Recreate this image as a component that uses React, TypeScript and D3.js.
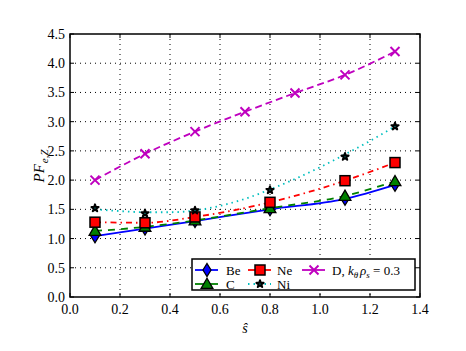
import React from "react";
import * as d3 from "d3";

const sValues = [0.1, 0.3, 0.5, 0.8, 1.1, 1.3];
const beValues = [1.04, 1.17, 1.3, 1.5, 1.68, 1.92];
const cValues = [1.13, 1.2, 1.31, 1.52, 1.73, 1.98];
const neValues = [1.28, 1.27, 1.37, 1.62, 1.99, 2.3];
const niValues = [1.52, 1.43, 1.48, 1.83, 2.4, 2.92];
const niFitS = [0.1, 0.2, 0.3, 0.4, 0.5, 0.6, 0.7, 0.8, 0.9, 1.0, 1.1, 1.2, 1.3];
const niFitValues = [1.5, 1.47, 1.45, 1.45, 1.48, 1.56, 1.68, 1.84, 2.02, 2.22, 2.44, 2.67, 2.92];
const dS = [0.1, 0.3, 0.5, 0.7, 0.9, 1.1, 1.3];
const dValues = [2.0, 2.45, 2.83, 3.17, 3.49, 3.8, 4.2];
const xTicks = [0, 0.2, 0.4, 0.6, 0.8, 1.0, 1.2, 1.4];
const yTicks = [0, 0.5, 1.0, 1.5, 2.0, 2.5, 3.0, 3.5, 4.0, 4.5];

const W = 466, H = 351;
const L = 70, R = 420, T = 34, B = 297;
const FONT = "Liberation Serif, DejaVu Serif, serif";

const x = d3.scaleLinear().domain([0, 1.4]).range([L, R]);
const y = d3.scaleLinear().domain([0, 4.5]).range([B, T]);

type Mk = "diamond" | "triangle" | "square" | "star" | "x";

function Marker({ kind, cx, cy, color }: { kind: Mk; cx: number; cy: number; color: string }) {
  if (kind === "diamond") {
    const p = `M${cx},${cy - 6.5}L${cx + 4},${cy}L${cx},${cy + 6.5}L${cx - 4},${cy}Z`;
    return <path d={p} fill={color} stroke="#000" strokeWidth={1.3} />;
  }
  if (kind === "triangle") {
    const p = d3.symbol().type(d3.symbolTriangle).size(60)()!;
    return <path d={p} transform={`translate(${cx},${cy + 1})`} fill={color} stroke="#000" strokeWidth={1.3} />;
  }
  if (kind === "square") {
    return <rect x={cx - 5} y={cy - 5} width={10} height={10} fill={color} stroke="#000" strokeWidth={1.5} />;
  }
  if (kind === "star") {
    const p = d3.symbol().type(d3.symbolStar).size(16)()!;
    return <path d={p} transform={`translate(${cx},${cy})`} fill={color} stroke="#000" strokeWidth={2} strokeLinejoin="round" />;
  }
  const r = 4.5;
  return (
    <path
      d={`M${cx - r},${cy - r}L${cx + r},${cy + r}M${cx - r},${cy + r}L${cx + r},${cy - r}`}
      stroke={color}
      strokeWidth={2}
      fill="none"
    />
  );
}

const series = [
  { name: "Be", s: sValues, v: beValues, ls: sValues, lv: beValues, color: "#0000ff", dash: "", mk: "diamond" as Mk, mcolor: "#0000ff" },
  { name: "C", s: sValues, v: cValues, ls: sValues, lv: cValues, color: "#008000", dash: "7,6", mk: "triangle" as Mk, mcolor: "#008000" },
  { name: "Ne", s: sValues, v: neValues, ls: sValues, lv: neValues, color: "#ff0000", dash: "6,4,1.5,4", mk: "square" as Mk, mcolor: "#ff0000" },
  { name: "Ni", s: sValues, v: niValues, ls: niFitS, lv: niFitValues, color: "#00bfbf", dash: "1.5,4", mk: "star" as Mk, mcolor: "#00bfbf" },
  { name: "D", s: dS, v: dValues, ls: dS, lv: dValues, color: "#bf00bf", dash: "7,4", mk: "x" as Mk, mcolor: "#bf00bf" },
];

const txt = (size: number, italic = false): React.CSSProperties => ({
  fontFamily: FONT,
  fontSize: size,
  fontStyle: italic ? "italic" : "normal",
});

export default function App() {
  const line = d3.line<[number, number]>().x((d) => x(d[0])).y((d) => y(d[1])).curve(d3.curveMonotoneX);
  const legendItems = [
    { idx: 0, hx: 195, ly: 270, tx: 226 },
    { idx: 2, hx: 248, ly: 270, tx: 277 },
    { idx: 4, hx: 302, ly: 270, tx: 332 },
    { idx: 1, hx: 195, ly: 284, tx: 226 },
    { idx: 3, hx: 248, ly: 284, tx: 277 },
  ];
  return (
    <svg width={W} height={H} style={{ position: "absolute", left: 0, top: 0, background: "#fff" }}>
      <defs>
        <clipPath id="plotclip">
          <rect x={L} y={T} width={R - L} height={B - T} />
        </clipPath>
      </defs>
      <rect x={0} y={0} width={W} height={H} fill="#fff" />
      {xTicks.slice(1, -1).map((t) => (
        <line key={"gx" + t} x1={x(t)} x2={x(t)} y1={T} y2={B} stroke="#000" strokeWidth={1} strokeDasharray="1,4" />
      ))}
      {yTicks.slice(1, -1).map((t) => (
        <line key={"gy" + t} x1={L} x2={R} y1={y(t)} y2={y(t)} stroke="#000" strokeWidth={1} strokeDasharray="1,4" />
      ))}
      <g clipPath="url(#plotclip)">
        {series.map((s) => (
          <path
            key={"l" + s.name}
            d={line(s.ls.map((d, i) => [d, s.lv[i]] as [number, number]))!}
            fill="none"
            stroke={s.color}
            strokeWidth={1.8}
            strokeDasharray={s.dash || undefined}
          />
        ))}
        {series.map((s) =>
          s.s.map((d, i) => <Marker key={s.name + i} kind={s.mk} cx={x(d)} cy={y(s.v[i])} color={s.mcolor} />)
        )}
      </g>
      {xTicks.map((t) => (
        <g key={"tx" + t}>
          <line x1={x(t)} x2={x(t)} y1={B} y2={B - 4} stroke="#000" />
          <line x1={x(t)} x2={x(t)} y1={T} y2={T + 4} stroke="#000" />
          <text x={x(t)} y={B + 17} textAnchor="middle" style={txt(14)} fill="#000">
            {t.toFixed(1)}
          </text>
        </g>
      ))}
      {yTicks.map((t) => (
        <g key={"ty" + t}>
          <line x1={L} x2={L + 4} y1={y(t)} y2={y(t)} stroke="#000" />
          <line x1={R} x2={R - 4} y1={y(t)} y2={y(t)} stroke="#000" />
          <text x={L - 5} y={y(t) + 5} textAnchor="end" style={txt(14)} fill="#000">
            {t.toFixed(1)}
          </text>
        </g>
      ))}
      <rect x={L} y={T} width={R - L} height={B - T} fill="none" stroke="#000" strokeWidth={1.5} />
      <text x={245} y={333} textAnchor="middle" style={txt(14, true)}>
        ŝ
      </text>
      <text transform="translate(44,166) rotate(-90)" textAnchor="middle" style={txt(15, true)}>
        PF
        <tspan style={txt(11, true)} dy={4} dx={1}>e,Z</tspan>
      </text>
      <rect x={192} y={259} width={223} height={31} fill="#fff" stroke="#000" strokeWidth={1.5} />
      {legendItems.map((it) => {
        const s = series[it.idx];
        return (
          <g key={"lg" + s.name}>
            <line x1={it.hx} x2={it.hx + 23} y1={it.ly} y2={it.ly} stroke={s.color} strokeWidth={1.8} strokeDasharray={s.name === "Ni" ? "1.5,4" : undefined} />
            <Marker kind={s.mk} cx={it.hx + 12} cy={it.ly} color={s.mcolor} />
            <text x={it.tx} y={it.ly + 4.5} style={txt(13)} fill="#000">
              {s.name === "D" ? (
                <>
                  D, <tspan style={txt(13, true)}>k</tspan>
                  <tspan style={txt(9, true)} dy={3}>θ</tspan>
                  <tspan style={txt(13, true)} dy={-3} dx={2}>ρ</tspan>
                  <tspan style={txt(9, true)} dy={3}>s</tspan>
                  <tspan dy={-3}> = 0.3</tspan>
                </>
              ) : (
                s.name
              )}
            </text>
          </g>
        );
      })}
    </svg>
  );
}
